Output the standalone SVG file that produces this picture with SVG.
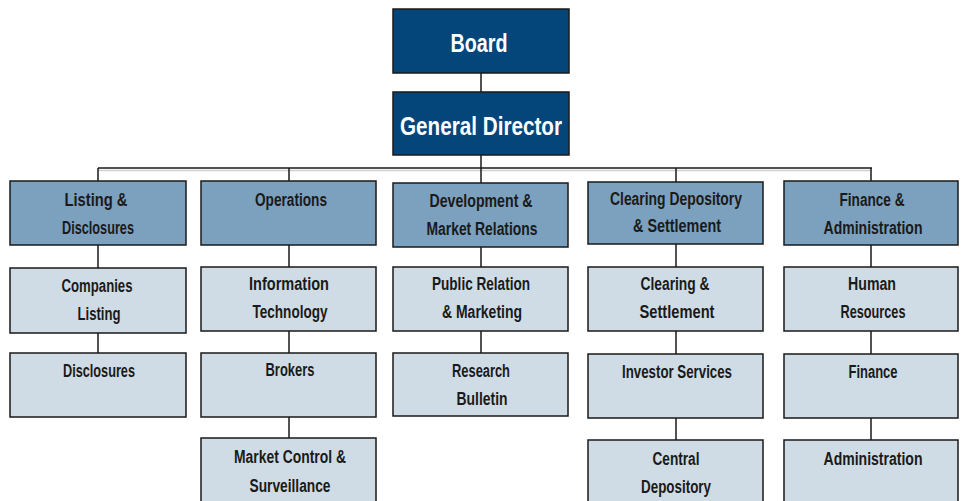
<svg xmlns="http://www.w3.org/2000/svg" width="963" height="501" viewBox="0 0 963 501">
<style>
.top{fill:#04457a;stroke:#1a1a1a;stroke-width:1.5}
.hd{fill:#7ba1bf;stroke:#1a1a1a;stroke-width:1.5}
.lt{fill:#cfdce5;stroke:#1a1a1a;stroke-width:1.5}
text{font-family:"Liberation Sans",Arial,sans-serif;font-weight:bold;text-anchor:middle}
.tt{fill:#ffffff;font-size:26px}
.t{fill:#1a1a1a;font-size:17.5px}
.c{stroke:#1a1a1a;stroke-width:1.5;fill:none}
</style>
<rect width="963" height="501" fill="#ffffff"/>
<g id="connectors">
<line x1="98" y1="170.5" x2="871" y2="170.5" stroke="#d0d0d0" stroke-width="1.5"/>
<path class="c" d="M481 73V92 M481 155V168 M98 168H872 M98 168V181 M289 168V181 M481 168V183 M676 168V182 M871 168V181"/>
<path class="c" d="M98 245V268 M98 333V353"/>
<path class="c" d="M289 245V267 M289 331V353 M289 417V438"/>
<path class="c" d="M481 247V267 M481 331V353"/>
<path class="c" d="M676 244V267 M676 331V354 M676 418V440"/>
<path class="c" d="M871 245V267 M871 331V354 M871 418V440"/>
</g>
<g id="board"><rect class="top" x="393" y="9" width="176" height="64"/><text class="tt" x="479" y="52" textLength="57" lengthAdjust="spacingAndGlyphs">Board</text></g>
<g id="general-director"><rect class="top" x="393" y="92" width="176" height="63"/><text class="tt" x="481" y="135" textLength="162" lengthAdjust="spacingAndGlyphs">General Director</text></g>

<g id="listing-disclosures"><rect class="hd" x="10" y="181" width="176" height="64"/><text class="t" x="96" y="206" textLength="63" lengthAdjust="spacingAndGlyphs">Listing &amp;</text><text class="t" x="98" y="234" textLength="72" lengthAdjust="spacingAndGlyphs">Disclosures</text></g>
<g id="companies-listing"><rect class="lt" x="10" y="268" width="176" height="65"/><text class="t" x="97" y="292" textLength="71" lengthAdjust="spacingAndGlyphs">Companies</text><text class="t" x="99" y="320" textLength="43" lengthAdjust="spacingAndGlyphs">Listing</text></g>
<g id="disclosures"><rect class="lt" x="10" y="353" width="176" height="64"/><text class="t" x="99" y="377" textLength="72" lengthAdjust="spacingAndGlyphs">Disclosures</text></g>

<g id="operations"><rect class="hd" x="201" y="181" width="175" height="64"/><text class="t" x="291" y="206" textLength="72" lengthAdjust="spacingAndGlyphs">Operations</text></g>
<g id="information-technology"><rect class="lt" x="201" y="267" width="175" height="64"/><text class="t" x="289" y="290" textLength="80" lengthAdjust="spacingAndGlyphs">Information</text><text class="t" x="290" y="318" textLength="75" lengthAdjust="spacingAndGlyphs">Technology</text></g>
<g id="brokers"><rect class="lt" x="201" y="353" width="175" height="64"/><text class="t" x="290" y="376" textLength="49" lengthAdjust="spacingAndGlyphs">Brokers</text></g>
<g id="market-control"><rect class="lt" x="201" y="438" width="175" height="70"/><text class="t" x="290" y="463" textLength="112" lengthAdjust="spacingAndGlyphs">Market Control &amp;</text><text class="t" x="290" y="492" textLength="81" lengthAdjust="spacingAndGlyphs">Surveillance</text></g>

<g id="development"><rect class="hd" x="393" y="183" width="175" height="64"/><text class="t" x="481" y="207" textLength="103" lengthAdjust="spacingAndGlyphs">Development &amp;</text><text class="t" x="482" y="235" textLength="111" lengthAdjust="spacingAndGlyphs">Market Relations</text></g>
<g id="public-relation"><rect class="lt" x="393" y="267" width="175" height="64"/><text class="t" x="481" y="290" textLength="98" lengthAdjust="spacingAndGlyphs">Public Relation</text><text class="t" x="482" y="318" textLength="80" lengthAdjust="spacingAndGlyphs">&amp; Marketing</text></g>
<g id="research"><rect class="lt" x="393" y="353" width="175" height="63"/><text class="t" x="481" y="377" textLength="58" lengthAdjust="spacingAndGlyphs">Research</text><text class="t" x="482" y="405" textLength="51" lengthAdjust="spacingAndGlyphs">Bulletin</text></g>

<g id="clearing-depository"><rect class="hd" x="588" y="182" width="175" height="62"/><text class="t" x="676" y="205" textLength="132" lengthAdjust="spacingAndGlyphs">Clearing  Depository</text><text class="t" x="677" y="232" textLength="88" lengthAdjust="spacingAndGlyphs">&amp; Settlement</text></g>
<g id="clearing-settlement"><rect class="lt" x="588" y="267" width="175" height="64"/><text class="t" x="675" y="290" textLength="69" lengthAdjust="spacingAndGlyphs">Clearing &amp;</text><text class="t" x="677" y="318" textLength="75" lengthAdjust="spacingAndGlyphs">Settlement</text></g>
<g id="investor-services"><rect class="lt" x="588" y="354" width="175" height="64"/><text class="t" x="677" y="378" textLength="110" lengthAdjust="spacingAndGlyphs">Investor Services</text></g>
<g id="central-depository"><rect class="lt" x="588" y="440" width="175" height="68"/><text class="t" x="676" y="465" textLength="47" lengthAdjust="spacingAndGlyphs">Central</text><text class="t" x="676" y="493" textLength="70" lengthAdjust="spacingAndGlyphs">Depository</text></g>

<g id="finance-administration"><rect class="hd" x="784" y="181" width="174" height="64"/><text class="t" x="872" y="206" textLength="65" lengthAdjust="spacingAndGlyphs">Finance &amp;</text><text class="t" x="873" y="234" textLength="99" lengthAdjust="spacingAndGlyphs">Administration</text></g>
<g id="human-resources"><rect class="lt" x="784" y="267" width="174" height="64"/><text class="t" x="872" y="290" textLength="48" lengthAdjust="spacingAndGlyphs">Human</text><text class="t" x="873" y="318" textLength="65" lengthAdjust="spacingAndGlyphs">Resources</text></g>
<g id="finance"><rect class="lt" x="784" y="354" width="174" height="64"/><text class="t" x="873" y="378" textLength="49" lengthAdjust="spacingAndGlyphs">Finance</text></g>
<g id="administration"><rect class="lt" x="784" y="440" width="174" height="68"/><text class="t" x="873" y="465" textLength="99" lengthAdjust="spacingAndGlyphs">Administration</text></g>
</svg>
